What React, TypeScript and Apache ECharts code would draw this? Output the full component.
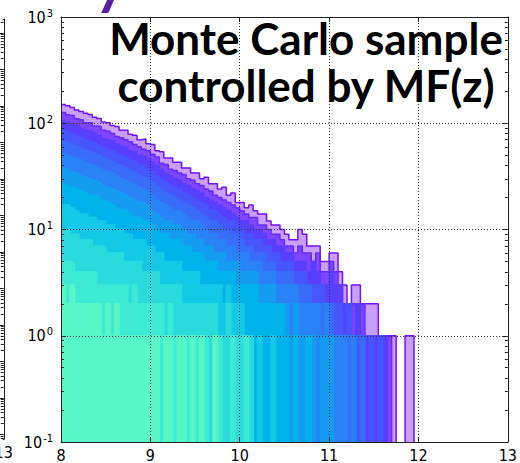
import React, { useEffect, useRef } from "react";
import * as echarts from "echarts";

// histogram binning (bin left edges start at binStart, constant width)
const binStart = 8;
const binWidth = 0.05;

// counts per bin (largest sample first)
const h1 = [
  150, 146, 141, 133, 129, 124, 121, 114, 111, 103,
  101, 95, 93, 86, 86, 79, 77, 70, 71, 64,
  63, 55, 54, 47, 47, 43, 43, 38, 38, 34,
  34, 30, 31, 27, 27, 24, 25, 21, 22, 18,
  18, 16, 17, 15, 14, 14, 12, 11, 11, 10,
  9, 8, 8, 10, 9, 7, 7, 7, 5, 5,
  6, 6, 4, 3, 2, 3, 3, 2, 2, 2,
  2, 1, 1, 1, 1, 0, 0, 1, 1, 0,
];
const h2 = [
  126, 120, 118, 110, 108, 101, 101, 94, 93, 86,
  84, 80, 75, 73, 70, 67, 63, 60, 57, 55,
  51, 48, 42, 41, 37, 36, 34, 33, 30, 29,
  27, 26, 24, 23, 21, 20, 19, 18, 17, 16,
  15, 14, 13, 13, 11, 11, 10, 9, 9, 8,
  7, 7, 6, 7, 6, 6, 5, 6, 4, 4,
  5, 4, 3, 2, 2, 2, 1, 2, 1, 1,
  1, 1, 0, 1, 0, 0, 0, 0, 0, 0,
];
const h3 = [
  105, 102, 98, 95, 90, 86, 84, 81, 77, 72,
  70, 68, 64, 61, 60, 55, 54, 50, 49, 46,
  43, 40, 37, 34, 32, 30, 29, 27, 26, 24,
  23, 22, 20, 19, 18, 17, 16, 15, 14, 13,
  12, 12, 11, 10, 10, 9, 8, 8, 7, 7,
  6, 6, 5, 5, 5, 4, 5, 4, 3, 3,
  4, 3, 3, 2, 2, 1, 2, 1, 1, 0,
  1, 0, 1, 0, 0, 0, 0, 0, 0, 0,
];
const h4 = [
  86, 83, 80, 76, 73, 70, 68, 66, 62, 59,
  57, 55, 52, 50, 48, 45, 44, 41, 40, 37,
  35, 32, 30, 28, 26, 25, 24, 22, 21, 20,
  19, 18, 17, 15, 15, 14, 13, 12, 12, 11,
  10, 9, 9, 8, 8, 7, 7, 6, 6, 5,
  5, 5, 4, 4, 4, 3, 3, 3, 3, 2,
  2, 2, 2, 1, 2, 1, 1, 1, 0, 1,
  0, 1, 0, 0, 0, 0, 0, 0, 0, 0,
];
const h5 = [
  68, 66, 63, 61, 58, 56, 54, 52, 50, 47,
  45, 44, 41, 40, 38, 36, 35, 33, 31, 30,
  28, 25, 24, 22, 21, 20, 19, 18, 17, 16,
  15, 14, 13, 12, 12, 11, 10, 10, 9, 9,
  8, 7, 7, 6, 6, 6, 5, 5, 4, 4,
  4, 4, 3, 3, 3, 3, 2, 2, 2, 2,
  2, 1, 1, 1, 1, 1, 0, 1, 0, 0,
  0, 0, 0, 0, 0, 0, 0, 0, 0, 0,
];
const h6 = [
  52, 50, 48, 47, 45, 43, 41, 40, 38, 36,
  35, 34, 32, 30, 29, 28, 27, 25, 24, 23,
  21, 19, 18, 17, 16, 15, 15, 14, 13, 12,
  12, 11, 10, 9, 9, 8, 8, 7, 7, 6,
  6, 6, 5, 5, 5, 4, 4, 4, 3, 3,
  3, 3, 3, 2, 2, 2, 2, 2, 1, 2,
  1, 1, 1, 1, 0, 1, 0, 0, 0, 0,
  0, 0, 0, 0, 0, 0, 0, 0, 0, 0,
];
const h7 = [
  38, 37, 35, 34, 32, 31, 30, 29, 28, 26,
  25, 24, 23, 22, 21, 20, 19, 18, 18, 17,
  15, 14, 13, 12, 12, 11, 11, 10, 9, 9,
  8, 8, 7, 7, 6, 6, 6, 5, 5, 5,
  4, 4, 4, 4, 3, 3, 3, 3, 2, 2,
  2, 1, 2, 1, 1, 1, 1, 0, 1, 1,
  1, 0, 0, 0, 0, 0, 0, 0, 0, 0,
  0, 0, 0, 0, 0, 0, 0, 0, 0, 0,
];
const h8 = [
  27, 26, 25, 24, 23, 22, 21, 21, 20, 19,
  18, 17, 16, 15, 15, 14, 13, 13, 12, 12,
  11, 10, 9, 9, 8, 8, 8, 7, 7, 6,
  6, 6, 5, 5, 5, 4, 4, 4, 4, 3,
  3, 3, 3, 3, 2, 2, 2, 2, 2, 2,
  1, 0, 1, 0, 0, 1, 0, 0, 0, 0,
  0, 0, 0, 0, 0, 0, 0, 0, 0, 0,
  0, 0, 0, 0, 0, 0, 0, 0, 0, 0,
];
const h9 = [
  17, 17, 16, 15, 14, 14, 13, 13, 12, 12,
  11, 11, 10, 10, 9, 9, 8, 8, 8, 7,
  7, 6, 6, 5, 5, 5, 5, 4, 4, 4,
  4, 3, 3, 3, 3, 3, 2, 3, 2, 2,
  2, 1, 1, 0, 1, 0, 0, 1, 0, 0,
  0, 0, 0, 0, 0, 0, 0, 0, 0, 0,
  0, 0, 0, 0, 0, 0, 0, 0, 0, 0,
  0, 0, 0, 0, 0, 0, 0, 0, 0, 0,
];
const h10 = [
  10, 10, 9, 9, 8, 8, 8, 7, 7, 7,
  6, 6, 6, 6, 5, 5, 5, 5, 4, 4,
  4, 4, 3, 3, 3, 3, 3, 2, 2, 2,
  2, 2, 2, 2, 2, 1, 1, 2, 1, 1,
  1, 0, 1, 0, 0, 0, 0, 0, 0, 0,
  0, 0, 0, 0, 0, 0, 0, 0, 0, 0,
  0, 0, 0, 0, 0, 0, 0, 0, 0, 0,
  0, 0, 0, 0, 0, 0, 0, 0, 0, 0,
];
const h11 = [
  5, 5, 5, 4, 4, 4, 4, 4, 3, 3,
  3, 3, 3, 3, 3, 2, 3, 2, 2, 2,
  2, 2, 2, 1, 2, 1, 1, 1, 1, 1,
  1, 1, 1, 0, 0, 1, 0, 0, 1, 0,
  0, 1, 0, 0, 0, 0, 0, 0, 0, 0,
  0, 0, 0, 0, 0, 0, 0, 0, 0, 0,
  0, 0, 0, 0, 0, 0, 0, 0, 0, 0,
  0, 0, 0, 0, 0, 0, 0, 0, 0, 0,
];
const h12 = [
  3, 2, 3, 2, 2, 2, 2, 2, 2, 1,
  2, 1, 2, 1, 1, 1, 1, 1, 1, 1,
  1, 1, 0, 1, 1, 0, 1, 1, 0, 1,
  0, 1, 0, 0, 1, 0, 0, 0, 0, 0,
  0, 0, 0, 0, 0, 0, 0, 0, 0, 0,
  0, 0, 0, 0, 0, 0, 0, 0, 0, 0,
  0, 0, 0, 0, 0, 0, 0, 0, 0, 0,
  0, 0, 0, 0, 0, 0, 0, 0, 0, 0,
];

const histograms = [h1, h2, h3, h4, h5, h6, h7, h8, h9, h10, h11, h12];
const histColors = [
  "#7510ff", "#6628fe", "#573ffd", "#4756fb", "#386cf9", "#2982f6",
  "#149cf1", "#00b4eb", "#14c9e5", "#29dbdd", "#3dead4", "#57f7c7",
];
const histFillOpacity = [0.4, 0.75, 1, 1, 1, 1, 1, 1, 1, 1, 1, 1];

const xTicks = [8, 9, 10, 11, 12, 13];
const yTicks = [0.1, 1, 10, 100, 1000];
const yTickExp = ["-1", "0", "1", "2", "3"];
const yMinorTicks = [
  0.2, 0.3, 0.4, 0.5, 0.6, 0.7, 0.8, 0.9,
  2, 3, 4, 5, 6, 7, 8, 9,
  20, 30, 40, 50, 60, 70, 80, 90,
  200, 300, 400, 500, 600, 700, 800, 900,
];
const titleLines = ["Monte Carlo sample", "controlled by MF(z)"];
const cutTitleFragment = "y";

// neighbouring (cropped) panel on the left: only its right spine and last x label show
const leftPanelXTicks = [13];
const leftPanelMajor = [1e-8, 1e-7, 1e-6, 1e-5, 1e-4, 1e-3, 1e-2, 1e-1, 1, 10, 100, 1000];

const LABEL_FONT = "'Liberation Sans Narrow', 'DejaVu Sans Condensed', 'Liberation Sans', sans-serif";
const TITLE_FONT = "Lato, 'Open Sans', sans-serif";
const ZERO = 0.01;
const AXIS_COLOR = "#222";

export default function App() {
  const ref = useRef<HTMLDivElement>(null);

  useEffect(() => {
    document.body.style.margin = "0";
    const chart = echarts.init(ref.current!, null, { renderer: "svg" });

    const leftMinor: number[] = [];
    for (let d = -9; d <= 3; d++) {
      for (let k = 2; k <= 9; k++) leftMinor.push(k * Math.pow(10, d));
    }
    const leftMin = Math.pow(10, -8.123);
    const leftMax = Math.pow(10, 3.384);

    const axisLine = { show: true, onZero: false, lineStyle: { color: AXIS_COLOR, width: 1 } };
    const noLine = { show: false, onZero: false };
    const majorTick = (vals: number[]) => ({
      show: true, inside: true, length: 5, customValues: vals,
      lineStyle: { color: AXIS_COLOR, width: 1 },
    });
    const minorTick = (vals: number[]) => ({
      show: true, inside: true, length: 3, customValues: vals,
      lineStyle: { color: AXIS_COLOR, width: 1 },
    });
    const gridLine = { show: true, lineStyle: { color: "#333", width: 1, type: [1, 2] } };
    const xLabel = (vals: number[]) => ({
      show: true, customValues: vals, fontFamily: LABEL_FONT, fontSize: 16, color: "#000", margin: 5,
      formatter: (v: number) => String(v),
    });

    const series = histograms.map((h, k) => ({
      type: "line",
      step: "end",
      symbol: "none",
      xAxisIndex: 0,
      yAxisIndex: 0,
      silent: true,
      clip: true,
      z: 2,
      data: [
        ...h.map((v, i) => [binStart + i * binWidth, v > 0 ? v : ZERO]),
        [binStart + h.length * binWidth, ZERO],
      ],
      lineStyle: { color: histColors[k], width: 1.5 },
      areaStyle: { color: histColors[k], opacity: histFillOpacity[k], origin: "start" },
    }));

    const titleStyle = {
      align: "center", textAlign: "center", verticalAlign: "top", textVerticalAlign: "top",
      fontFamily: TITLE_FONT, fontWeight: "bold", fontSize: 44, lineHeight: 44, fill: "#000",
    };

    const option: any = {
      animation: false,
      backgroundColor: "#fff",
      grid: [
        { left: 61, right: 3, top: 17, bottom: 19, containLabel: false },
        { left: 0, width: 3, top: 19, height: 420, containLabel: false },
      ],
      xAxis: [
        {
          gridIndex: 0, type: "value", position: "bottom", min: 8, max: 13, interval: 1,
          axisLine, axisTick: majorTick(xTicks), axisLabel: xLabel(xTicks), splitLine: gridLine, z: 3,
        },
        {
          gridIndex: 0, type: "value", position: "top", min: 8, max: 13, interval: 1,
          axisLine, axisTick: majorTick(xTicks), axisLabel: { show: false }, splitLine: { show: false }, z: 3,
        },
        {
          gridIndex: 1, type: "value", position: "bottom", min: 12.9, max: 13,
          axisLine, axisTick: { show: false }, axisLabel: xLabel(leftPanelXTicks), splitLine: { show: false },
        },
        {
          gridIndex: 1, type: "value", position: "top", min: 12.9, max: 13,
          axisLine, axisTick: { show: false }, axisLabel: { show: false }, splitLine: { show: false },
        },
      ],
      yAxis: [
        {
          gridIndex: 0, type: "log", logBase: 10, position: "left", min: 0.1, max: 1000,
          axisLine, axisTick: majorTick(yTicks),
          axisLabel: {
            show: true, customValues: yTicks, margin: 8,
            formatter: (v: number) => {
              let idx = 0;
              yTicks.forEach((t, i) => {
                if (Math.abs(Math.log10(t) - Math.log10(v)) < 1e-6) idx = i;
              });
              return `{b|10}{s|${yTickExp[idx]}}`;
            },
            rich: {
              b: { fontFamily: LABEL_FONT, fontSize: 16, color: "#000" },
              s: { fontFamily: LABEL_FONT, fontSize: 11, color: "#000", padding: [0, 0, 8, 1] },
            },
          },
          splitLine: gridLine, z: 3,
        },
        {
          gridIndex: 0, type: "log", logBase: 10, position: "left", min: 0.1, max: 1000,
          axisLine: noLine, axisTick: minorTick(yMinorTicks), axisLabel: { show: false }, splitLine: { show: false }, z: 3,
        },
        {
          gridIndex: 0, type: "log", logBase: 10, position: "right", min: 0.1, max: 1000,
          axisLine, axisTick: majorTick(yTicks), axisLabel: { show: false }, splitLine: { show: false }, z: 3,
        },
        {
          gridIndex: 0, type: "log", logBase: 10, position: "right", min: 0.1, max: 1000,
          axisLine: noLine, axisTick: minorTick(yMinorTicks), axisLabel: { show: false }, splitLine: { show: false }, z: 3,
        },
        {
          gridIndex: 1, type: "log", logBase: 10, position: "right", min: leftMin, max: leftMax,
          axisLine, axisTick: majorTick(leftPanelMajor), axisLabel: { show: false }, splitLine: { show: false },
        },
        {
          gridIndex: 1, type: "log", logBase: 10, position: "right", min: leftMin, max: leftMax,
          axisLine: noLine, axisTick: minorTick(leftMinor.filter((v) => v > leftMin && v < leftMax)),
          axisLabel: { show: false }, splitLine: { show: false },
        },
      ],
      series,
      graphic: [
        { type: "text", x: 306, y: 16, z: 100, style: { ...titleStyle, text: titleLines[0] } },
        { type: "text", x: 306, y: 63, z: 100, style: { ...titleStyle, text: titleLines[1] } },
        {
          type: "text", x: 110, y: -20, z: 100,
          style: {
            text: cutTitleFragment,
            align: "center", textAlign: "center", verticalAlign: "middle", textVerticalAlign: "middle",
            fontFamily: TITLE_FONT, fontWeight: "bold", fontSize: 60, fill: "#5a1f9c",
          },
        },
      ],
    };

    chart.setOption(option);
    return () => chart.dispose();
  }, []);

  return <div ref={ref} style={{ width: 520, height: 463 }} />;
}
